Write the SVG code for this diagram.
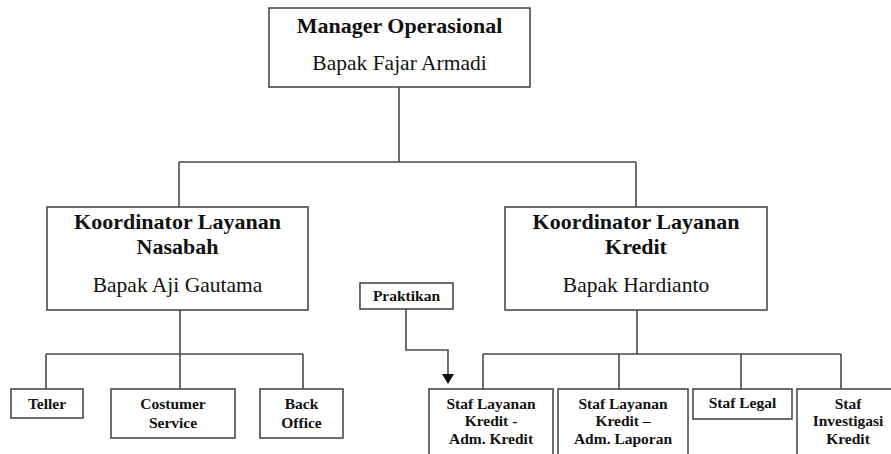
<svg xmlns="http://www.w3.org/2000/svg" width="891" height="454" viewBox="0 0 891 454">
<defs>
<style>
.box{fill:#fff;stroke:#4a4a4a;stroke-width:1.6}
.ln{fill:none;stroke:#4a4a4a;stroke-width:1.6}
text{font-family:"Liberation Serif","Times New Roman",serif;fill:#111;text-anchor:middle}
.h1{font-size:22px;font-weight:bold}
.n1{font-size:21.5px}
.s{font-size:15.5px;font-weight:bold}
</style>
</defs>
<rect width="891" height="454" fill="#fff"/>
<g id="connectors">
<path class="ln" d="M399,87 V162 M179,162 H636 M179,162 V207 M636,162 V207"/>
<path class="ln" d="M180,310 V354 M46,354 H303 M46,354 V389 M180,354 V389 M303,354 V389"/>
<path class="ln" d="M637,310 V354 M483,354 H841 M483,354 V389 M619,354 V389 M741,354 V389 M841,354 V389"/>
<path class="ln" d="M406,309 V350 H448 V375"/>
<path d="M442,374 L454,374 L448,384 Z" fill="#111"/>
</g>
<g id="manager">
<rect class="box" x="269" y="8" width="261" height="79"/>
<text class="h1" x="399.5" y="33">Manager Operasional</text>
<text class="n1" x="399.5" y="70">Bapak Fajar Armadi</text>
</g>
<g id="koord-nasabah">
<rect class="box" x="47" y="207" width="261" height="103"/>
<text class="h1" x="177.5" y="229">Koordinator Layanan</text>
<text class="h1" x="177.5" y="254">Nasabah</text>
<text class="n1" x="177.5" y="292">Bapak Aji Gautama</text>
</g>
<g id="koord-kredit">
<rect class="box" x="505" y="207" width="262" height="103"/>
<text class="h1" x="636" y="229">Koordinator Layanan</text>
<text class="h1" x="636" y="254">Kredit</text>
<text class="n1" x="636" y="292">Bapak Hardianto</text>
</g>
<g id="praktikan">
<rect class="box" x="360" y="283" width="93" height="26"/>
<text class="s" x="406.5" y="301">Praktikan</text>
</g>
<g id="teller">
<rect class="box" x="11" y="389" width="72" height="29"/>
<text class="s" x="47" y="409">Teller</text>
</g>
<g id="costumer-service">
<rect class="box" x="111" y="389" width="124" height="49"/>
<text class="s" x="173" y="409">Costumer</text>
<text class="s" x="173" y="428">Service</text>
</g>
<g id="back-office">
<rect class="box" x="260" y="389" width="83" height="49"/>
<text class="s" x="301.5" y="409">Back</text>
<text class="s" x="301.5" y="428">Office</text>
</g>
<g id="staf-adm-kredit">
<rect class="box" x="429" y="389" width="124" height="70"/>
<text class="s" x="491" y="409">Staf Layanan</text>
<text class="s" x="491" y="426">Kredit -</text>
<text class="s" x="491" y="444">Adm. Kredit</text>
</g>
<g id="staf-adm-laporan">
<rect class="box" x="558" y="389" width="130" height="70"/>
<text class="s" x="623" y="409">Staf Layanan</text>
<text class="s" x="623" y="426">Kredit –</text>
<text class="s" x="623" y="444">Adm. Laporan</text>
</g>
<g id="staf-legal">
<rect class="box" x="693" y="389" width="99" height="30"/>
<text class="s" x="742.5" y="408">Staf Legal</text>
</g>
<g id="staf-investigasi">
<rect class="box" x="797" y="389" width="110" height="70"/>
<text class="s" x="848" y="409">Staf</text>
<text class="s" x="848" y="426">Investigasi</text>
<text class="s" x="848" y="444">Kredit</text>
</g>
</svg>
